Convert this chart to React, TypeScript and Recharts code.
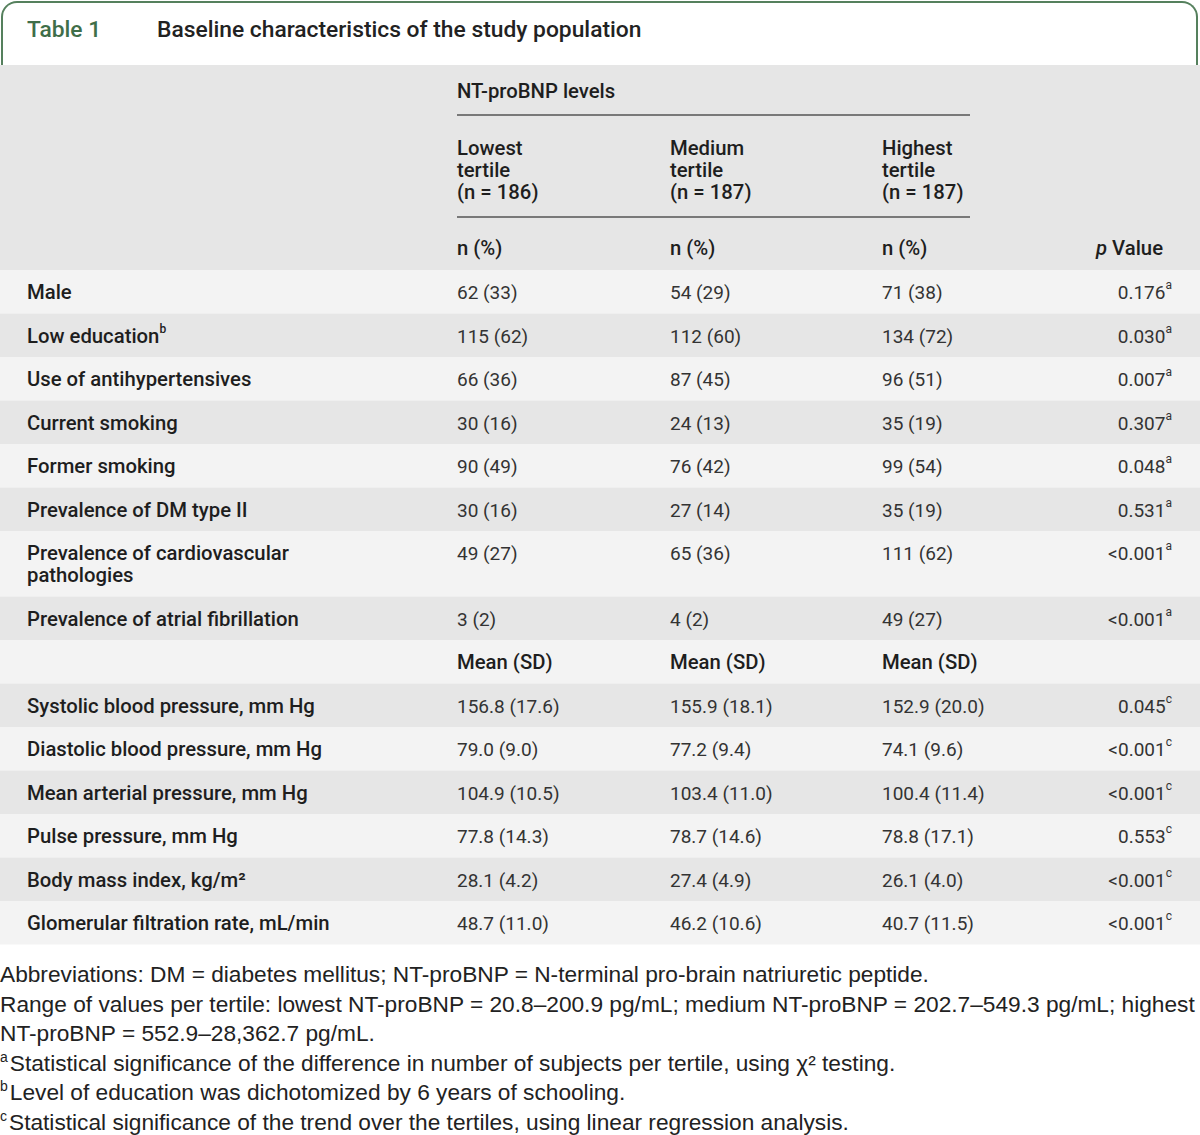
import { ReferenceArea, ReferenceLine, Scatter, ScatterChart, XAxis, YAxis } from "recharts";

// column headers
const groupTitle = "NT-proBNP levels";
const tertileHeads = ["Lowest\ntertile\n(n = 186)", "Medium\ntertile\n(n = 187)", "Highest\ntertile\n(n = 187)"];
const countHead = "n (%)";
const meanHead = "Mean (SD)";

// n (%) block
const countLabels = [
  "Male",
  "Low education",
  "Use of antihypertensives",
  "Current smoking",
  "Former smoking",
  "Prevalence of DM type II",
  "Prevalence of cardiovascular\npathologies",
  "Prevalence of atrial fibrillation",
];
const countLabelSup = ["", "b", "", "", "", "", "", ""];
const countLowest = ["62 (33)", "115 (62)", "66 (36)", "30 (16)", "90 (49)", "30 (16)", "49 (27)", "3 (2)"];
const countMedium = ["54 (29)", "112 (60)", "87 (45)", "24 (13)", "76 (42)", "27 (14)", "65 (36)", "4 (2)"];
const countHighest = ["71 (38)", "134 (72)", "96 (51)", "35 (19)", "99 (54)", "35 (19)", "111 (62)", "49 (27)"];
const countP = ["0.176", "0.030", "0.007", "0.307", "0.048", "0.531", "<0.001", "<0.001"];

// Mean (SD) block
const meanLabels = [
  "Systolic blood pressure, mm Hg",
  "Diastolic blood pressure, mm Hg",
  "Mean arterial pressure, mm Hg",
  "Pulse pressure, mm Hg",
  "Body mass index, kg/m²",
  "Glomerular filtration rate, mL/min",
];
const meanLowest = ["156.8 (17.6)", "79.0 (9.0)", "104.9 (10.5)", "77.8 (14.3)", "28.1 (4.2)", "48.7 (11.0)"];
const meanMedium = ["155.9 (18.1)", "77.2 (9.4)", "103.4 (11.0)", "78.7 (14.6)", "27.4 (4.9)", "46.2 (10.6)"];
const meanHighest = ["152.9 (20.0)", "74.1 (9.6)", "100.4 (11.4)", "78.8 (17.1)", "26.1 (4.0)", "40.7 (11.5)"];
const meanP = ["0.045", "<0.001", "<0.001", "0.553", "<0.001", "<0.001"];

const footnotes = [
  { sup: "", text: "Abbreviations: DM = diabetes mellitus; NT-proBNP = N-terminal pro-brain natriuretic peptide." },
  { sup: "", text: "Range of values per tertile: lowest NT-proBNP = 20.8–200.9 pg/mL; medium NT-proBNP = 202.7–549.3 pg/mL; highest" },
  { sup: "", text: "NT-proBNP = 552.9–28,362.7 pg/mL." },
  { sup: "a", text: "Statistical significance of the difference in number of subjects per tertile, using χ² testing." },
  { sup: "b", text: "Level of education was dichotomized by 6 years of schooling." },
  { sup: "c", text: "Statistical significance of the trend over the tertiles, using linear regression analysis." },
];

// layout
const W = 1200;
const H = 880;
const HEAD_H = 205;
const ROW_H = 43.5;
const LINE_H = 22;
const LABEL_X = 27;
const COL_X = [457, 670, 882];
const P_X = 1172;
const FONT = "Roboto, 'Liberation Sans', sans-serif";
const LIGHT = "#f3f3f3";
const GRAY = "#e6e6e6";

type Cell = {
  x: number;
  y: number;
  text: string;
  bold?: boolean;
  end?: boolean;
  sup?: string;
  italicP?: boolean;
};

type Row = { cells: string[]; sup: string[]; label: string; labelSup: string; bold?: boolean };

const rows: Row[] = [
  ...countLabels.map((l, i) => ({
    label: l,
    labelSup: countLabelSup[i],
    cells: [countLowest[i], countMedium[i], countHighest[i], countP[i]],
    sup: ["", "", "", "a"],
  })),
  { label: "", labelSup: "", cells: [meanHead, meanHead, meanHead, ""], sup: ["", "", "", ""], bold: true },
  ...meanLabels.map((l, i) => ({
    label: l,
    labelSup: "",
    cells: [meanLowest[i], meanMedium[i], meanHighest[i], meanP[i]],
    sup: ["", "", "", "c"],
  })),
];

const bands: { y1: number; y2: number; fill: string }[] = [{ y1: 0, y2: HEAD_H, fill: GRAY }];
const cells: Cell[] = [];

cells.push({ x: COL_X[0], y: 26, text: groupTitle, bold: true });
tertileHeads.forEach((t, i) => cells.push({ x: COL_X[i], y: 83, text: t, bold: true }));
COL_X.forEach((x) => cells.push({ x, y: 183, text: countHead, bold: true }));
cells.push({ x: 1163, y: 183, text: "Value", bold: true, end: true, italicP: true });

let top = HEAD_H;
rows.forEach((r, i) => {
  const h = ROW_H + (r.label.split("\n").length - 1) * LINE_H;
  bands.push({ y1: top, y2: top + h, fill: i % 2 === 0 ? LIGHT : GRAY });
  const cy = top + 22;
  if (r.label) cells.push({ x: LABEL_X, y: cy, text: r.label, bold: true, sup: r.labelSup });
  r.cells.forEach((c, j) => {
    if (!c) return;
    if (j < 3) cells.push({ x: COL_X[j], y: cy, text: c, bold: r.bold, sup: r.sup[j] });
    else cells.push({ x: P_X, y: cy, text: c, end: true, sup: r.sup[j] });
  });
  top += h;
});

const renderCell = (props: any) => {
  const { cx, cy, payload } = props;
  const c: Cell = payload;
  const lines = c.text.split("\n");
  return (
    <text
      x={cx}
      y={cy}
      fontFamily={FONT}
      fontSize={c.bold ? 20.3 : 19}
      fontWeight={c.bold ? 500 : 400}
      fill={c.bold ? "#1e1e1e" : "#333"}
      textAnchor={c.end ? "end" : "start"}
      dominantBaseline="central"
    >
      {c.italicP && <tspan fontStyle="italic">p </tspan>}
      {lines.map((l, k) => (
        <tspan key={k} x={k === 0 ? undefined : cx} dy={k === 0 ? 0 : LINE_H}>
          {l}
        </tspan>
      ))}
      {c.sup ? (
        <tspan fontSize={12} dy={-7}>
          {c.sup}
        </tspan>
      ) : null}
    </text>
  );
};

const App = () => {
  return (
    <div style={{ position: "relative", width: W, height: 1135, background: "#fff", fontFamily: FONT }}>
      <style>{`body{margin:0}`}</style>
      <div
        style={{
          position: "absolute",
          left: 1,
          top: 1,
          width: 1197,
          height: 64,
          boxSizing: "border-box",
          border: "2px solid #55805d",
          borderBottom: "none",
          borderRadius: "16px 16px 0 0",
        }}
      />
      <div style={{ position: "absolute", left: 27, top: 16, fontSize: 22.8, lineHeight: "28px", fontWeight: 500, color: "#3f6e49" }}>
        Table 1
      </div>
      <div style={{ position: "absolute", left: 157, top: 16, fontSize: 22.8, lineHeight: "28px", fontWeight: 500, color: "#222" }}>
        Baseline characteristics of the study population
      </div>
      <div style={{ position: "absolute", left: 0, top: 65 }}>
        <ScatterChart width={W} height={H} margin={{ top: 0, right: 0, bottom: 0, left: 0 }}>
          <XAxis type="number" dataKey="x" domain={[0, W]} hide />
          <YAxis type="number" dataKey="y" domain={[0, H]} reversed hide />
          {bands.map((b, i) => (
            <ReferenceArea key={i} y1={b.y1} y2={b.y2} fill={b.fill} fillOpacity={1} stroke="none" />
          ))}
          <ReferenceLine segment={[{ x: COL_X[0], y: 50 }, { x: 970, y: 50 }]} stroke="#555" strokeWidth={1.5} />
          <ReferenceLine segment={[{ x: COL_X[0], y: 152 }, { x: 970, y: 152 }]} stroke="#555" strokeWidth={1.5} />
          <Scatter data={cells} shape={renderCell} isAnimationActive={false} />
        </ScatterChart>
      </div>
      <div
        style={{
          position: "absolute",
          left: 0,
          top: 960,
          fontFamily: "'Liberation Sans', Arial, sans-serif",
          fontSize: 22.7,
          lineHeight: "29.5px",
          color: "#222",
          whiteSpace: "nowrap",
        }}
      >
        {footnotes.map((f, i) => (
          <div key={i}>
            {f.sup && <sup style={{ fontSize: 14, lineHeight: 0, marginRight: 2 }}>{f.sup}</sup>}
            {f.text}
          </div>
        ))}
      </div>
    </div>
  );
};

export default App;
